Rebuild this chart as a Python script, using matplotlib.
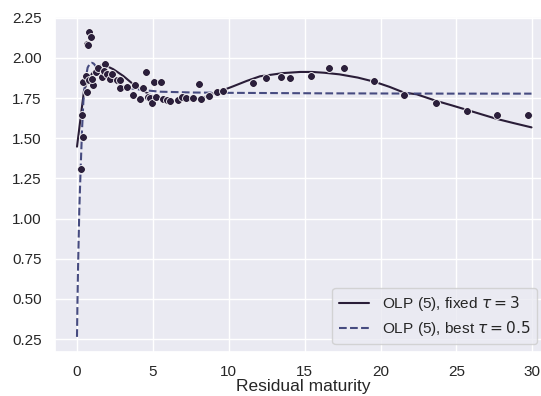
import numpy as np
import matplotlib
matplotlib.use("Agg")
import matplotlib.pyplot as plt
import seaborn as sns

# observed yields (residual maturity, yield)
obs_x = [0.24, 0.37, 0.33, 0.42, 0.59, 0.64, 0.68, 0.72, 0.81, 0.92, 0.77, 1.05,
         0.99, 1.23, 1.38, 1.67, 1.82, 1.76, 1.98, 2.17, 2.31, 2.66, 2.81, 2.81,
         3.32, 3.67, 3.82, 4.15, 4.33, 4.55, 4.70, 4.80, 4.92, 5.05, 5.20, 5.53,
         5.69, 5.90, 6.15, 6.68, 6.92, 7.20, 7.66, 8.06, 8.17, 8.67, 9.20, 9.64,
         11.57, 12.43, 13.45, 14.05, 15.42, 16.58, 17.57, 19.59, 21.56, 23.67,
         25.69, 27.69, 29.69]
obs_y = [1.31, 1.51, 1.646, 1.85, 1.89, 1.79, 2.09, 2.08, 2.16, 2.13, 1.86, 1.83,
         1.87, 1.91, 1.94, 1.88, 1.96, 1.92, 1.90, 1.87, 1.90, 1.86, 1.86, 1.81,
         1.82, 1.77, 1.83, 1.745, 1.815, 1.91, 1.76, 1.75, 1.72, 1.85, 1.757, 1.85,
         1.745, 1.74, 1.735, 1.74, 1.76, 1.75, 1.75, 1.84, 1.745, 1.766, 1.79, 1.795,
         1.845, 1.877, 1.88, 1.877, 1.89, 1.94, 1.935, 1.857, 1.768, 1.72,
         1.669, 1.648, 1.646]

# fitted curve, fixed tau = 3
fix_x = [0.0, 0.24, 0.46, 0.7, 0.97, 1.34, 1.73, 2.39, 3.05, 3.71, 4.37, 5.03,
         5.69, 6.34, 7.0, 7.66, 8.32, 8.98, 9.64, 10.3, 11.18, 12.06, 13.59,
         14.7, 15.5, 16.3, 17.3, 18.5, 19.6, 20.6, 21.56, 22.38, 23.67, 24.7,
         25.69, 26.7, 27.69, 28.8, 29.95]
fix_y = [1.448, 1.63, 1.795, 1.86, 1.90, 1.94, 1.96, 1.93, 1.888, 1.836, 1.795, 1.76,
         1.74, 1.733, 1.733, 1.74, 1.753, 1.78, 1.80, 1.824, 1.857, 1.886, 1.906,
         1.913, 1.913, 1.908, 1.898, 1.878, 1.852, 1.82, 1.784, 1.774, 1.733, 1.705,
         1.677, 1.648, 1.62, 1.594, 1.568]

# fitted curve, best tau = 0.5
best_x = [0.0, 0.03, 0.07, 0.15, 0.24, 0.33, 0.42, 0.55, 0.7, 0.85, 0.97, 1.1,
          1.3, 1.73, 2.39, 3.27, 4.37, 5.5, 7.66, 10.0, 12.06, 16.0, 20.0, 25.0,
          29.95]
best_y = [0.264, 0.48, 0.70, 1.05, 1.31, 1.55, 1.73, 1.86, 1.94, 1.965, 1.97, 1.965,
          1.94, 1.90, 1.85, 1.815, 1.80, 1.79, 1.785, 1.783, 1.782, 1.78, 1.779, 1.778,
          1.778]

sns.set_theme(style="darkgrid")
plt.rcParams['font.family'] = ['Liberation Sans', 'DejaVu Sans']
plt.rcParams['mathtext.fontset'] = 'dejavusans'

fig = plt.figure(figsize=(5.41, 3.96), dpi=100)
ax = fig.add_axes([55 / 541, 44 / 396, 497 / 541, 335 / 396])

ax.scatter(obs_x, obs_y, s=32, color='#2b1f3b', edgecolor='white', linewidth=0.6, zorder=3)
ax.plot(fix_x, fix_y, color='#2a1d38', lw=1.5, label=r'OLP (5), fixed $\tau = 3$')
ax.plot(best_x, best_y, color='#464b80', lw=1.5, ls='--', label=r'OLP (5), best $\tau = 0.5$')

ax.set_xlim(-1.45, 31.3)
ax.set_ylim(0.17, 2.255)
ax.set_xticks([0, 5, 10, 15, 20, 25, 30])
ax.set_yticks([0.25, 0.5, 0.75, 1.0, 1.25, 1.5, 1.75, 2.0, 2.25])
ax.tick_params(labelsize=11)
ax.set_xlabel('Residual maturity', fontsize=12.5, labelpad=0)
ax.legend(loc='lower right', fontsize=11.1, bbox_to_anchor=(0.985, 0.0),
          labelspacing=0.4)

fig.savefig('out.png', dpi=100)
